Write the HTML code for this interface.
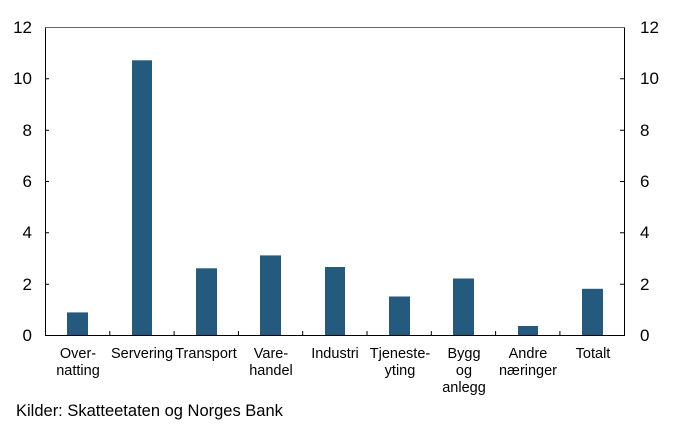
<!DOCTYPE html><html><head><style>body{margin:0;background:#fff}svg{display:block}text{font-family:"Liberation Sans",sans-serif;fill:#000}</style></head><body>
<svg width="682" height="429" xmlns="http://www.w3.org/2000/svg">
<g stroke="#000" stroke-width="1" fill="none">
<line x1="45.5" y1="27" x2="45.5" y2="335"/>
<line x1="624.5" y1="27" x2="624.5" y2="335"/>
<line x1="45" y1="27.5" x2="625" y2="27.5" stroke="#666"/>
<line x1="45" y1="335.5" x2="625" y2="335.5"/>
<path d="M45 78.8h4M45 130.2h4M45 181.5h4M45 232.8h4M45 284.2h4M620 78.8h4M620 130.2h4M620 181.5h4M620 232.8h4M620 284.2h4"/>
<path d="M109.8 335v-4M174.1 335v-4M238.4 335v-4M302.7 335v-4M367 335v-4M431.3 335v-4M495.6 335v-4M559.9 335v-4"/>
</g>
<g fill="#245a7e">
<rect x="67" y="312.4" width="21" height="22.6"/>
<rect x="132" y="60.3" width="20" height="274.7"/>
<rect x="196" y="268.3" width="21" height="66.7"/>
<rect x="260" y="255.4" width="21" height="79.6"/>
<rect x="325" y="267" width="20" height="68"/>
<rect x="389" y="296.5" width="21" height="38.5"/>
<rect x="453" y="278.5" width="21" height="56.5"/>
<rect x="518" y="326" width="20" height="9"/>
<rect x="582" y="288.8" width="21" height="46.2"/>
</g>
<g font-size="17" text-anchor="end">
<text x="32" y="33">12</text><text x="32" y="84">10</text><text x="32" y="136">8</text><text x="32" y="187">6</text><text x="32" y="238">4</text><text x="32" y="290">2</text><text x="32" y="341">0</text>
</g>
<g font-size="17" text-anchor="start">
<text x="640" y="33">12</text><text x="640" y="84">10</text><text x="640" y="136">8</text><text x="640" y="187">6</text><text x="640" y="238">4</text><text x="640" y="290">2</text><text x="640" y="341">0</text>
</g>
<g font-size="14.5" text-anchor="middle">
<text x="78" y="358">Over-</text><text x="78" y="375">natting</text>
<text x="142" y="358">Servering</text>
<text x="206" y="358">Transport</text>
<text x="271" y="358">Vare-</text><text x="271" y="375">handel</text>
<text x="335" y="358">Industri</text>
<text x="400" y="358">Tjeneste-</text><text x="400" y="375">yting</text>
<text x="464" y="358">Bygg</text><text x="464" y="375">og</text><text x="464" y="392">anlegg</text>
<text x="528" y="358">Andre</text><text x="528" y="375">næringer</text>
<text x="593" y="358">Totalt</text>
</g>
<text x="16" y="416" font-size="16.5">Kilder: Skatteetaten og Norges Bank</text>
</svg></body></html>
